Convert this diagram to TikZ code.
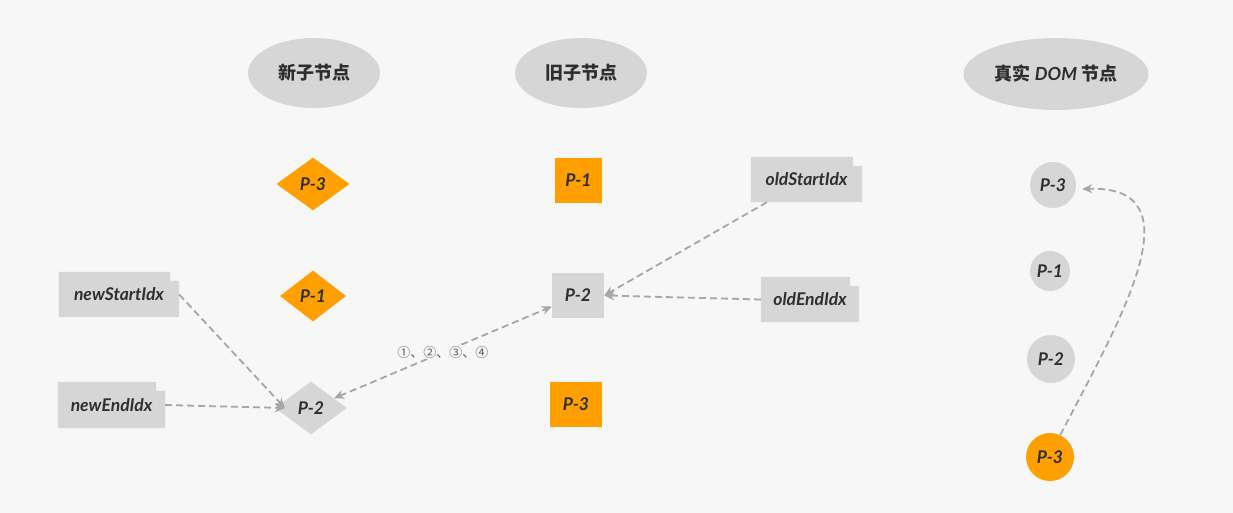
\documentclass[tikz,border=0pt]{standalone}
\usepackage{fontspec}
\setmainfont{Lato}
\newfontfamily\cjk{Noto Sans CJK SC}
\newfontfamily\hand{Lato}
\usetikzlibrary{shapes.geometric,arrows.meta,calc,backgrounds}
\definecolor{bgc}{HTML}{F7F7F7}
\definecolor{boxg}{HTML}{D6D6D6}
\definecolor{org}{HTML}{FFA000}
\definecolor{arr}{HTML}{A6A6A6}
\definecolor{txt}{HTML}{2E2E2E}
\definecolor{lbl}{HTML}{5A5A5A}
\tikzset{
  hfont/.style={font=\hand\bfseries\itshape\fontsize{17.5}{19}\selectfont, text=txt},
  head/.style={ellipse, fill=boxg, inner sep=0pt, minimum width=132pt, minimum height=70pt,
    font=\cjk\bfseries\fontsize{18}{20}\selectfont, text=txt},
  dia/.style={diamond, inner sep=0pt, minimum width=72pt, minimum height=53pt, hfont},
  sq/.style={rectangle, inner sep=0pt, minimum width=52pt, minimum height=45pt, hfont},
  dom/.style={circle, fill=boxg, inner sep=0pt, hfont},
  idx/.style={rectangle, inner sep=0pt, minimum height=45pt, hfont},
  conn/.style={draw=arr, line width=1.8pt, dash pattern=on 7pt off 4pt,
    -{Stealth[length=10pt,width=9pt]}},
  lab/.style={font=\cjk\fontsize{13}{15}\selectfont, text=lbl, fill=bgc, inner sep=1pt}
}
\begin{document}
\begin{tikzpicture}[x=1pt,y=-1pt]
\begin{scope}[on background layer]
\fill[bgc] (0,0) rectangle (1233,513);
\end{scope}
\useasboundingbox (0,0) rectangle (1233,513);

% headers
\node[head] (h1) at (314,73) {新子节点};
\node[head] (h2) at (581,73) {旧子节点};
\node[head, minimum width=185pt, minimum height=72pt] (h3) at (1056,74) {真实 {\hand\bfseries\itshape DOM} 节点};

% new children (diamonds)
\node[dia, fill=org, minimum width=73pt] (nd3) at (313,184) {P-3};
\node[dia, fill=org, minimum width=66pt, minimum height=51pt] (nd1) at (313,296) {P-1};
\node[dia, fill=boxg] (nd2) at (311,408) {P-2};

% old children (squares)
\node[sq, fill=org, minimum width=47pt] (op1) at (578.5,180.5) {P-1};
\node[sq, fill=boxg] (op2) at (578,295.5) {P-2};
\node[sq, fill=org] (op3) at (576,404.5) {P-3};

% index boxes
\node[idx, minimum width=120pt] (nsi) at (119,294.5) {newStartIdx};
\node[idx, minimum width=107pt, minimum height=46pt] (nei) at (111.5,405) {newEndIdx};
\node[idx, minimum width=111pt] (osi) at (806.5,179.5) {oldStartIdx};
\node[idx, minimum width=98pt] (oei) at (810,299.5) {oldEndIdx};
\begin{scope}[on background layer]
\foreach \n in {nsi,nei,osi,oei}{
  \fill[boxg] (\n.south west) -- (\n.north west) -- ($(\n.north east)+(-9,0)$)
    -- ($(\n.north east)+(-9,9)$) -- ($(\n.north east)+(0,9)$) -- (\n.south east) -- cycle;
}
\end{scope}

% real DOM nodes
\node[dom, minimum size=46pt] (da3) at (1053,185) {P-3};
\node[dom, minimum size=40pt] (da1) at (1050,271) {P-1};
\node[dom, minimum size=48pt] (da2) at (1051,359) {P-2};
\node[dom, fill=org, minimum size=48pt] (db3) at (1050,457) {P-3};

% connectors
\draw[conn] (nsi.east) -- ($(nd2.west)+(10,0)$);
\draw[conn] (nei.east) -- ($(nd2.west)+(10,0)$);
\draw[conn, {Stealth[length=10pt,width=9pt]}-{Stealth[length=10pt,width=9pt]}] (nd2) -- node[lab] (l1) {①、②、③、④} (op2);
\draw[conn] (osi) -- (op2.east);
\draw[conn] (oei.west) -- (op2.east);
\draw[conn] (db3.65) .. controls (1120,320) and (1200,185) .. ($(da3.east)+(6,4)$);
\end{tikzpicture}
\end{document}
